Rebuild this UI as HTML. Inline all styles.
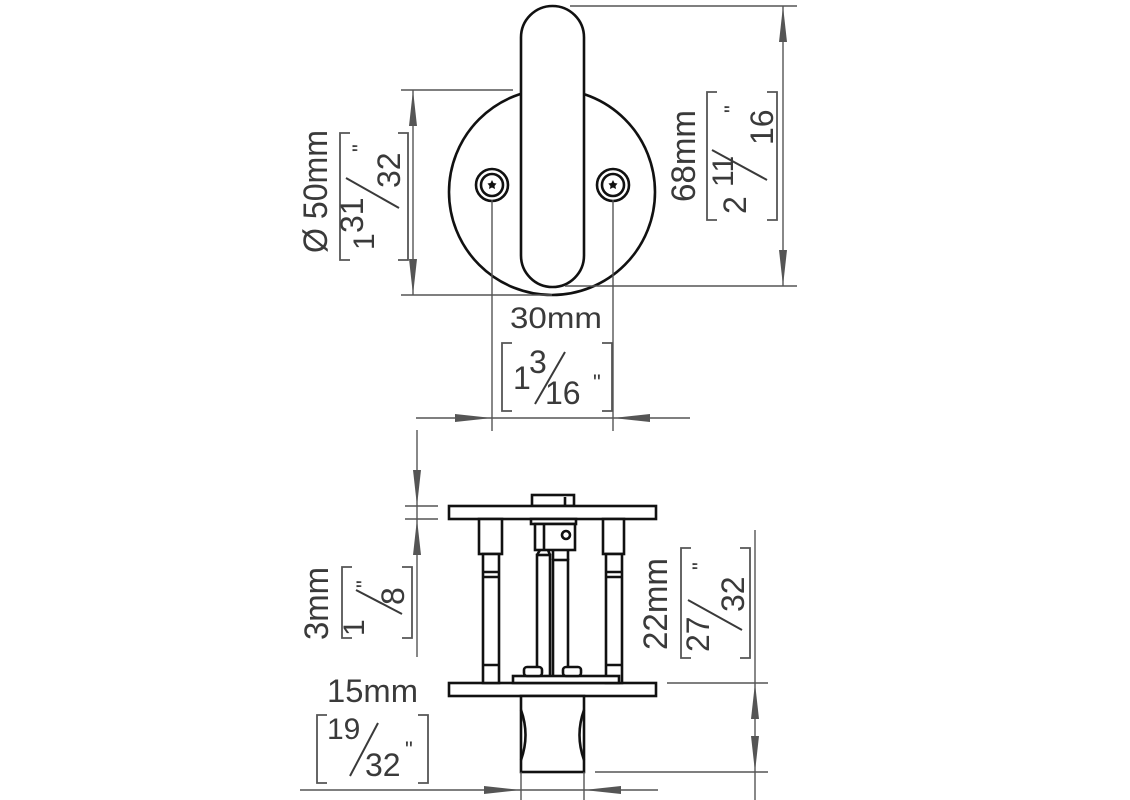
<!DOCTYPE html>
<html><head><meta charset="utf-8"><style>
html,body{margin:0;padding:0;background:#fff;}
svg{display:block;}
text{font-family:"Liberation Sans","DejaVu Sans",sans-serif;fill:#3a3a3a;}
.o{fill:none;stroke:#111;stroke-width:2.6;}
.of{fill:#fff;stroke:#111;stroke-width:2.6;}
.d{fill:none;stroke:#555;stroke-width:1.4;}
.b{fill:none;stroke:#555;stroke-width:1.8;}
.s{stroke:#3a3a3a;stroke-width:2;}
.a{fill:#555;stroke:none;}
</style></head><body>
<svg width="1130" height="800" viewBox="0 0 1130 800" xmlns="http://www.w3.org/2000/svg">
<!-- ===== TOP VIEW ===== -->
<circle class="o" cx="552" cy="192" r="103"/>
<rect class="of" x="521" y="6" width="63" height="281" rx="31.5" ry="31.5"/>
<circle class="o" cx="492" cy="185" r="16" stroke-width="3"/><circle class="o" cx="492" cy="185" r="11"/>
<circle class="o" cx="613" cy="185" r="16" stroke-width="3"/><circle class="o" cx="613" cy="185" r="11"/>
<path d="M492 180 l1.5 3 3 .5 -2 2.5 .5 3 -3 -1.5 -3 1.5 .5 -3 -2 -2.5 3 -.5z" fill="#111"/>
<path d="M613 180 l1.5 3 3 .5 -2 2.5 .5 3 -3 -1.5 -3 1.5 .5 -3 -2 -2.5 3 -.5z" fill="#111"/>

<!-- 50mm dim -->
<path class="d" d="M401 90 H513 M401 295 H552 M413 90 V295"/>
<polygon class="a" points="413,90 409,126 417,126"/>
<polygon class="a" points="413,295 409,259 417,259"/>
<text transform="translate(327,253) rotate(-90)" font-size="34" textLength="123" lengthAdjust="spacingAndGlyphs">Ø 50mm</text>
<path class="b" d="M350 133 H340 V260 H350 M398 133 H408 V260 H398"/>
<text transform="translate(374,250) rotate(-90)" font-size="30">1</text>
<text transform="translate(363,233) rotate(-90)" font-size="32">31</text>
<line class="s" x1="346" y1="178" x2="399" y2="208"/>
<text transform="translate(400,188) rotate(-90)" font-size="32">32</text>
<text transform="translate(368,152) rotate(-90)" font-size="22">"</text>

<!-- 68mm dim -->
<path class="d" d="M570 6 H797 M565 286 H797 M783 6 V286"/>
<polygon class="a" points="783,6 779,42 787,42"/>
<polygon class="a" points="783,286 779,250 787,250"/>
<text transform="translate(695,202) rotate(-90)" font-size="34" textLength="92" lengthAdjust="spacingAndGlyphs">68mm</text>
<path class="b" d="M717 92 H707 V220 H717 M767 92 H777 V220 H767"/>
<text transform="translate(746,214) rotate(-90)" font-size="32">2</text>
<text transform="translate(733,187) rotate(-90)" font-size="30">11</text>
<line class="s" x1="712" y1="150" x2="767" y2="180"/>
<text transform="translate(773,145) rotate(-90)" font-size="32">16</text>
<text transform="translate(740,113) rotate(-90)" font-size="22">"</text>

<!-- 30mm dim -->
<path class="d" d="M492 200 V431 M613 200 V431 M416 418 H690"/>
<polygon class="a" points="492,418 455,414 455,422"/>
<polygon class="a" points="613,418 650,414 650,422"/>
<text x="510" y="328" font-size="30" textLength="92" lengthAdjust="spacingAndGlyphs">30mm</text>
<path class="b" d="M512 343 H502 V411 H512 M602 343 H612 V411 H602"/>
<text x="513" y="389" font-size="32">1</text>
<text x="529" y="373" font-size="32">3</text>
<line class="s" x1="535" y1="404" x2="565" y2="352"/>
<text x="545" y="404" font-size="32">16</text>
<text x="593" y="390" font-size="22">"</text>

<!-- ===== SIDE VIEW ===== -->
<rect class="of" x="532" y="495" width="42" height="11"/>
<path class="o" d="M565 497 V506" stroke-width="1.5"/>
<rect class="of" x="449" y="506" width="207" height="13"/>
<rect class="of" x="449" y="683" width="207" height="13"/>
<rect class="of" x="521" y="696" width="63" height="76"/>
<path class="o" d="M521 710 Q530 735 521 760 M584 710 Q575 735 584 760" stroke-width="2"/>
<rect class="of" x="479" y="519" width="23" height="35"/>
<rect class="of" x="483" y="554" width="16" height="129"/>
<path class="o" d="M483 572 H499 M483 577 H499 M483 665 H499" stroke-width="1.6"/>
<rect class="of" x="603" y="519" width="21" height="35"/>
<rect class="of" x="606" y="554" width="16" height="129"/>
<path class="o" d="M606 572 H622 M606 577 H622 M606 665 H622" stroke-width="1.6"/>
<rect class="of" x="531" y="519" width="45" height="5" stroke-width="1.6"/>
<rect class="of" x="535" y="524" width="40" height="26"/>
<circle class="o" cx="566" cy="535" r="4" stroke-width="2.4"/>
<path class="o" d="M544 524 V550" stroke-width="2"/>
<rect class="of" x="537" y="555" width="13" height="122"/>
<rect class="of" x="553" y="560" width="15" height="117"/>
<path class="o" d="M540 550 L537 555 M548 550 L550 555 M553 550 L553 560 M568 550 L568 560" stroke-width="1.8"/>
<rect class="of" x="513" y="676" width="106" height="7" stroke-width="1.6"/>
<rect class="of" x="524" y="667" width="18" height="9" rx="3" stroke-width="2"/>
<rect class="of" x="563" y="667" width="18" height="9" rx="3" stroke-width="2"/>

<!-- 3mm dim -->
<path class="d" d="M417 430 V657 M405 506 H438 M405 519 H438"/>
<polygon class="a" points="417,506 413,470 421,470"/>
<polygon class="a" points="417,519 413,555 421,555"/>
<text transform="translate(328,640) rotate(-90)" font-size="34" textLength="73" lengthAdjust="spacingAndGlyphs">3mm</text>
<path class="b" d="M352 567 H342 V638 H352 M402 567 H412 V638 H402"/>
<text transform="translate(364,636) rotate(-90)" font-size="30">1</text>
<line class="s" x1="356" y1="590" x2="402" y2="614"/>
<text transform="translate(404,605) rotate(-90)" font-size="32">8</text>
<text transform="translate(372,588) rotate(-90)" font-size="22">"</text>

<!-- 22mm dim -->
<path class="d" d="M755 530 V800 M667 683 H768 M595 772 H768"/>
<polygon class="a" points="755,683 751,719 759,719"/>
<polygon class="a" points="755,772 751,736 759,736"/>
<text transform="translate(667,650) rotate(-90)" font-size="34" textLength="92" lengthAdjust="spacingAndGlyphs">22mm</text>
<path class="b" d="M691 548 H681 V658 H691 M740 548 H750 V658 H740"/>
<text transform="translate(709,652) rotate(-90)" font-size="32">27</text>
<line class="s" x1="688" y1="600" x2="742" y2="630"/>
<text transform="translate(744,612) rotate(-90)" font-size="32">32</text>
<text transform="translate(708,570) rotate(-90)" font-size="22">"</text>

<!-- 15mm dim -->
<path class="d" d="M521 772 V800 M584 772 V800 M300 790 H658"/>
<polygon class="a" points="521,790 484,786 484,794"/>
<polygon class="a" points="584,790 621,786 621,794"/>
<text x="327" y="702" font-size="32" textLength="91" lengthAdjust="spacingAndGlyphs">15mm</text>
<path class="b" d="M327 715 H317 V783 H327 M418 715 H428 V783 H418"/>
<text x="327" y="739" font-size="30">19</text>
<line class="s" x1="350" y1="776" x2="378" y2="723"/>
<text x="365" y="776" font-size="32">32</text>
<text x="405" y="757" font-size="22">"</text>
</svg>
</body></html>
